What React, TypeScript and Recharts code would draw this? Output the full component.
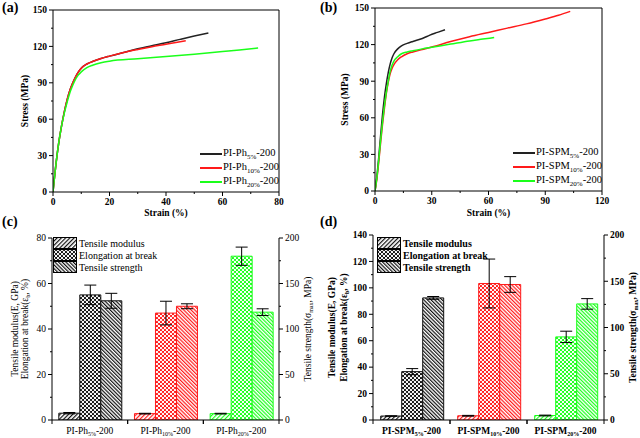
import React from 'react';
import { LineChart, Line, XAxis, YAxis, BarChart, Bar, Cell, ErrorBar, Legend, ReferenceLine } from 'recharts';

const FONT = '"Liberation Serif", "DejaVu Serif", serif';
const INK = '#000000';
const BLACK = '#222222';
const RED = '#ff1a1a';
const GREEN = '#1aff1a';
const CAT_COLORS = ['#111111', RED, GREEN];

// (a) stress-strain, PI-Ph films
const strainPh5 = [0, 1, 2, 3, 4, 5, 6, 7, 8, 9, 10, 12, 14, 17, 20, 25, 30, 35, 40, 45, 50, 55];
const stressPh5 = [0, 22, 40, 54, 66, 76, 84, 90, 95, 99, 102, 105.5, 107.5, 110, 112, 115, 118, 120.5, 123, 125.8, 128.5, 131];
const strainPh10 = [0, 1, 2, 3, 4, 5, 6, 7, 8, 9, 10, 12, 14, 17, 20, 25, 30, 35, 40, 44, 47];
const stressPh10 = [0, 22, 40, 54, 66, 76, 84, 90, 95, 99, 102, 105.5, 107.5, 110, 112, 115, 117.5, 119.8, 121.8, 123.5, 124.7];
const strainPh20 = [0, 1, 2, 3, 4, 5, 6, 7, 8, 9, 10, 12, 14, 17, 20, 30, 40, 50, 60, 66, 72.6];
const stressPh20 = [0, 22, 40, 54, 65, 74, 82, 88, 93, 96.5, 99, 102.5, 104.5, 106.5, 107.8, 109.8, 111.6, 113.5, 115.7, 117, 118.7];

// (b) stress-strain, PI-SPM films
const strainSpm5 = [0, 1, 2, 3, 4, 5, 6, 7, 8, 9, 10, 12, 14, 17, 20, 25, 29, 33, 37];
const stressSpm5 = [0, 12, 28, 46, 63, 77, 88, 97, 104, 109, 112.5, 116.5, 119, 121, 122.6, 125, 127.8, 130, 132.2];
const strainSpm10 = [0, 1, 2, 3, 4, 5, 6, 7, 8, 9, 10, 12, 14, 17, 20, 25, 30, 40, 50, 60, 70, 80, 90, 97, 103.2];
const stressSpm10 = [0, 10, 24, 40, 55, 68, 80, 89, 96, 100.5, 103.5, 107.5, 110, 112.5, 114, 116, 118, 122.5, 126.5, 130, 133.5, 137, 141, 144, 147.2];
const strainSpm20 = [0, 1, 2, 3, 4, 5, 6, 7, 8, 9, 10, 12, 14, 17, 20, 25, 30, 40, 50, 57, 63];
const stressSpm20 = [0, 11, 26, 42, 57, 70, 81, 90, 98, 103, 106.5, 110, 112.5, 114, 115, 116.5, 117.8, 120.4, 123, 124.5, 125.8];

// (c) properties, PI-Ph films
const catsC = ['5%', '10%', '20%'];
const modulusC = [3.0, 2.8, 2.8];
const modulusErrC = [0.3, 0.15, 0.15];
const elongC = [55, 47, 72];
const elongErrC = [4.3, 5.2, 4];
const strengthC = [131, 125, 118.5];
const strengthErrC = [8.2, 2.7, 3.7];

// (d) properties, PI-SPM films
const catsD = ['5%', '10%', '20%'];
const modulusD = [3.0, 3.2, 3.4];
const modulusErrD = [0.2, 0.3, 0.3];
const elongD = [36.6, 103.3, 62.9];
const elongErrD = [2.3, 18.5, 4.3];
const strengthD = [132, 146.5, 125.5];
const strengthErrD = [1.5, 8.5, 5.7];

// axis ticks (majors carry labels)
const ticksX_A = [0, 10, 20, 30, 40, 50, 60, 70, 80];
const ticksX_B = [0, 15, 30, 45, 60, 75, 90, 105, 120];
const ticksStress = [0, 15, 30, 45, 60, 75, 90, 105, 120, 135, 150];
const ticksLeftC = [0, 10, 20, 30, 40, 50, 60, 70, 80];
const ticksLeftD = [0, 10, 20, 30, 40, 50, 60, 70, 80, 90, 100, 110, 120, 130, 140];
const ticksRight = [0, 25, 50, 75, 100, 125, 150, 175, 200];

const pts = (xs: number[], ys: number[]) => xs.map((x, i) => ({ x, y: ys[i] }));

const isMajor = (v: number, step: number) => Math.abs(v / step - Math.round(v / step)) < 1e-6;

function yTick(side: 'left' | 'right', step: number, weight: string) {
  return (p: any) => {
    const v = p.payload.value;
    const maj = isMajor(v, step);
    const dir = side === 'left' ? -1 : 1;
    return (
      <g>
        <line x1={p.x} y1={p.y} x2={p.x + dir * (maj ? 4 : 2)} y2={p.y} stroke={INK} strokeWidth={1} />
        {maj && (
          <text x={p.x + dir * 6} y={p.y} dy="0.35em" textAnchor={side === 'left' ? 'end' : 'start'}
            fontFamily={FONT} fontSize={9.5} fontWeight={weight} fill={INK}>{v}</text>
        )}
      </g>
    );
  };
}

function xTick(step: number, weight: string) {
  return (p: any) => {
    const v = p.payload.value;
    const maj = isMajor(v, step);
    return (
      <g>
        <line x1={p.x} y1={p.y} x2={p.x} y2={p.y + (maj ? 4 : 2)} stroke={INK} strokeWidth={1} />
        {maj && (
          <text x={p.x} y={p.y + 13} textAnchor="middle" fontFamily={FONT} fontSize={9.5} fontWeight={weight} fill={INK}>{v}</text>
        )}
      </g>
    );
  };
}

function catTick(prefix: string, band: number, weight: string) {
  return (p: any) => (
    <g>
      <line x1={p.x - band / 2} y1={p.y} x2={p.x - band / 2} y2={p.y + 4} stroke={INK} />
      <line x1={p.x + band / 2} y1={p.y} x2={p.x + band / 2} y2={p.y + 4} stroke={INK} />
      <text x={p.x} y={p.y + 14} textAnchor="middle" fontFamily={FONT} fontSize={9.5} fontWeight={weight} fill={INK}>
        {prefix}<tspan fontSize={6} dy={2}>{p.payload.value}</tspan><tspan dy={-2}>-200</tspan>
      </text>
    </g>
  );
}

// rotated axis title, centred on the axis box
function vTitle(x: number, weight: string, parts: [string, string?, string?]) {
  return (p: any) => {
    const vb = p.viewBox || {};
    const cy = (vb.y || 0) + (vb.height || 0) / 2;
    const [a, sub, b] = parts;
    return (
      <text transform={`translate(${x},${cy}) rotate(-90)`} textAnchor="middle" dy="0.35em"
        fontFamily={FONT} fontSize={9.5} fontWeight={weight} fill={INK}>
        {a}
        {sub && <tspan fontSize={6} dy={2}>{sub}</tspan>}
        {sub && <tspan dy={-2}>{b}</tspan>}
      </text>
    );
  };
}

type Series = { sub: string; color: string; data: { x: number; y: number }[] };

function StressStrain(props: {
  left: number; prefix: string; series: Series[]; xMax: number; xTicks: number[]; xStep: number;
  margin: { top: number; right: number; bottom: number; left: number }; legend: { left: number; top: number };
}) {
  const { left, prefix, series, xMax, xTicks, xStep, margin, legend } = props;
  return (
    <div style={{ position: 'absolute', left, top: 0 }}>
      <LineChart width={320} height={219} margin={margin}>
        <XAxis type="number" dataKey="x" domain={[0, xMax]} ticks={xTicks} interval={0} allowDataOverflow
          tickSize={0} tickMargin={0} tickLine={false} height={25} axisLine={{ stroke: INK }}
          tick={xTick(xStep * 2, 'bold')}
          label={(p: any) => {
            const vb = p.viewBox || {};
            return <text x={(vb.x || 0) + (vb.width || 0) / 2} y={216} textAnchor="middle" fontFamily={FONT}
              fontSize={9.5} fontWeight="bold" fill={INK}>Strain (%)</text>;
          }} />
        <YAxis type="number" domain={[0, 150]} ticks={ticksStress} interval={0} allowDataOverflow
          tickSize={0} tickMargin={0} tickLine={false} width={30} axisLine={{ stroke: INK }}
          tick={yTick('left', 30, 'bold')} label={vTitle(25, 'bold', ['Stress (MPa)'])} />
        <ReferenceLine y={150} stroke={INK} strokeWidth={1} ifOverflow="visible" />
        <ReferenceLine x={xMax} stroke={INK} strokeWidth={1} ifOverflow="visible" />
        {series.map((s) => (
          <Line key={s.sub} data={s.data} dataKey="y" type="monotone" stroke={s.color} strokeWidth={1.5}
            dot={false} isAnimationActive={false} />
        ))}
        <Legend layout="horizontal" verticalAlign="middle" align="center"
          wrapperStyle={{ position: 'absolute', left: legend.left, top: legend.top, width: 'auto', height: 'auto' }}
          content={() => (
            <div style={{ fontFamily: FONT, fontSize: 10.5, color: INK }}>
              {series.map((s) => (
                <div key={s.sub} style={{ display: 'flex', alignItems: 'center', height: 14 }}>
                  <span style={{ display: 'inline-block', width: 22, borderTop: `2px solid ${s.color}`, marginRight: 1 }} />
                  <span style={{ whiteSpace: 'nowrap' }}>{prefix}<sub style={{ fontSize: 7 }}>{s.sub}</sub>-200</span>
                </div>
              ))}
            </div>
          )} />
      </LineChart>
    </div>
  );
}

const LEGEND_ROWS = [
  { pat: 'fwd', label: 'Tensile modulus' },
  { pat: 'dot', label: 'Elongation at break' },
  { pat: 'bwd', label: 'Tensile strength' },
];

function Properties(props: {
  left: number; prefix: string; cats: string[];
  modulus: number[]; modulusErr: number[]; elong: number[]; elongErr: number[]; strength: number[]; strengthErr: number[];
  leftMax: number; leftTicks: number[]; margin: { top: number; right: number; bottom: number; left: number };
  gap: string; weight: string; titleX: [number, number, number]; legend: { left: number; top: number };
}) {
  const { left, prefix, cats, leftMax, leftTicks, margin, gap, weight, titleX, legend } = props;
  const data = cats.map((c, i) => ({
    cat: c,
    modulus: props.modulus[i], modulusErr: props.modulusErr[i],
    elong: props.elong[i], elongErr: props.elongErr[i],
    strength: props.strength[i], strengthErr: props.strengthErr[i],
  }));
  const plotW = 320 - margin.left - margin.right - 60;
  const band = plotW / cats.length;
  const bars: [string, string, string][] = [['modulus', 'l', 'fwd'], ['elong', 'l', 'dot'], ['strength', 'r', 'bwd']];
  return (
    <div style={{ position: 'absolute', left, top: 219 }}>
      <BarChart width={320} height={219} data={data} margin={margin} barCategoryGap={gap} barGap={0}>
        <XAxis dataKey="cat" height={18} interval={0} tickSize={0} tickMargin={0} tickLine={false}
          axisLine={{ stroke: INK }} tick={catTick(prefix, band, weight)} />
        <YAxis yAxisId="l" domain={[0, leftMax]} ticks={leftTicks} interval={0} allowDataOverflow width={30}
          tickSize={0} tickMargin={0} tickLine={false} axisLine={{ stroke: INK }} tick={yTick('left', 20, weight)}
          label={(p: any) => (
            <g>
              {vTitle(titleX[0], weight, ['Tensile modulus(E, GPa)'])(p)}
              {vTitle(titleX[1], weight, ['Elongation at break(\u03b5', 'b', ', %)'])(p)}
            </g>
          )} />
        <YAxis yAxisId="r" orientation="right" domain={[0, 200]} ticks={ticksRight} interval={0} allowDataOverflow
          width={30} tickSize={0} tickMargin={0} tickLine={false} axisLine={{ stroke: INK }}
          tick={yTick('right', 50, weight)}
          label={vTitle(titleX[2], weight, ['Tensile strength(\u03c3', 'max', ', MPa)'])} />
        {bars.map(([key, axis, pat]) => (
          <Bar key={key} dataKey={key} yAxisId={axis} isAnimationActive={false} strokeWidth={1}>
            {data.map((_, i) => (
              <Cell key={i} fill={`url(#${pat}-${i})`} stroke={CAT_COLORS[i]} />
            ))}
            <ErrorBar dataKey={`${key}Err`} width={6} stroke={INK} strokeWidth={1} />
          </Bar>
        ))}
        <Legend layout="horizontal" verticalAlign="middle" align="center"
          wrapperStyle={{ position: 'absolute', left: legend.left, top: legend.top, width: 'auto', height: 'auto' }}
          content={() => (
            <div style={{ fontFamily: FONT, fontSize: 10, fontWeight: weight as any, color: INK }}>
              {LEGEND_ROWS.map((r) => (
                <div key={r.pat} style={{ display: 'flex', alignItems: 'center', height: 12 }}>
                  <svg width={24} height={12} style={{ display: 'block' }}>
                    <rect x={0.5} y={0.5} width={23} height={11} fill={`url(#${r.pat}-0)`} stroke={INK} />
                  </svg>
                  <span style={{ marginLeft: 2, whiteSpace: 'nowrap' }}>{r.label}</span>
                </div>
              ))}
            </div>
          )} />
      </BarChart>
    </div>
  );
}

function Patterns() {
  return (
    <svg width={0} height={0} style={{ position: 'absolute' }}>
      <defs>
        {CAT_COLORS.map((c, i) => (
          <React.Fragment key={i}>
            <pattern id={`fwd-${i}`} patternUnits="userSpaceOnUse" width={3} height={3} patternTransform="rotate(45)">
              <rect width={3} height={3} fill="#fff" />
              <line x1={0.6} y1={0} x2={0.6} y2={3} stroke={c} strokeWidth={1.2} />
            </pattern>
            <pattern id={`bwd-${i}`} patternUnits="userSpaceOnUse" width={2.6} height={2.6} patternTransform="rotate(-45)">
              <rect width={2.6} height={2.6} fill="#fff" />
              <line x1={0.6} y1={0} x2={0.6} y2={2.6} stroke={c} strokeWidth={1.2} />
            </pattern>
            <pattern id={`dot-${i}`} patternUnits="userSpaceOnUse" width={4} height={4}>
              <rect width={4} height={4} fill={c} />
              <circle cx={1} cy={1} r={1.15} fill="#fff" />
              <circle cx={3} cy={3} r={1.15} fill="#fff" />
            </pattern>
          </React.Fragment>
        ))}
      </defs>
    </svg>
  );
}

const letterStyle = (left: number, top: number): React.CSSProperties => ({
  position: 'absolute', left, top, fontFamily: FONT, fontSize: 14, fontWeight: 'bold', lineHeight: '16px', color: INK,
});

export default function App() {
  return (
    <div style={{ position: 'absolute', left: 0, top: 0, width: 640, height: 438, background: '#fff', overflow: 'hidden' }}>
      <Patterns />
      <StressStrain left={0} prefix="PI-Ph" xMax={80} xTicks={ticksX_A} xStep={10}
        margin={{ top: 10, right: 41, bottom: 2, left: 23 }} legend={{ left: 200, top: 147 }}
        series={[
          { sub: '5%', color: BLACK, data: pts(strainPh5, stressPh5) },
          { sub: '10%', color: RED, data: pts(strainPh10, stressPh10) },
          { sub: '20%', color: GREEN, data: pts(strainPh20, stressPh20) },
        ]} />
      <StressStrain left={320} prefix="PI-SPM" xMax={120} xTicks={ticksX_B} xStep={15}
        margin={{ top: 8, right: 38, bottom: 3, left: 25 }} legend={{ left: 193, top: 146 }}
        series={[
          { sub: '5%', color: BLACK, data: pts(strainSpm5, stressSpm5) },
          { sub: '10%', color: RED, data: pts(strainSpm10, stressSpm10) },
          { sub: '20%', color: GREEN, data: pts(strainSpm20, stressSpm20) },
        ]} />
      <Properties left={0} prefix="PI-Ph" cats={catsC} modulus={modulusC} modulusErr={modulusErrC}
        elong={elongC} elongErr={elongErrC} strength={strengthC} strengthErr={strengthErrC}
        leftMax={80} leftTicks={ticksLeftC} margin={{ top: 19, right: 11, bottom: 0, left: 22 }} gap="9%"
        weight="normal" titleX={[15, 25, 308]} legend={{ left: 53, top: 18 }} />
      <Properties left={320} prefix="PI-SPM" cats={catsD} modulus={modulusD} modulusErr={modulusErrD}
        elong={elongD} elongErr={elongErrD} strength={strengthD} strengthErr={strengthErrD}
        leftMax={140} leftTicks={ticksLeftD} margin={{ top: 16, right: 6, bottom: 0, left: 23 }} gap="10%"
        weight="bold" titleX={[12, 24, 313]} legend={{ left: 57, top: 18 }} />
      <div style={letterStyle(2, 0)}>(a)</div>
      <div style={letterStyle(320, 0)}>(b)</div>
      <div style={letterStyle(2, 214)}>(c)</div>
      <div style={letterStyle(320, 214)}>(d)</div>
    </div>
  );
}
